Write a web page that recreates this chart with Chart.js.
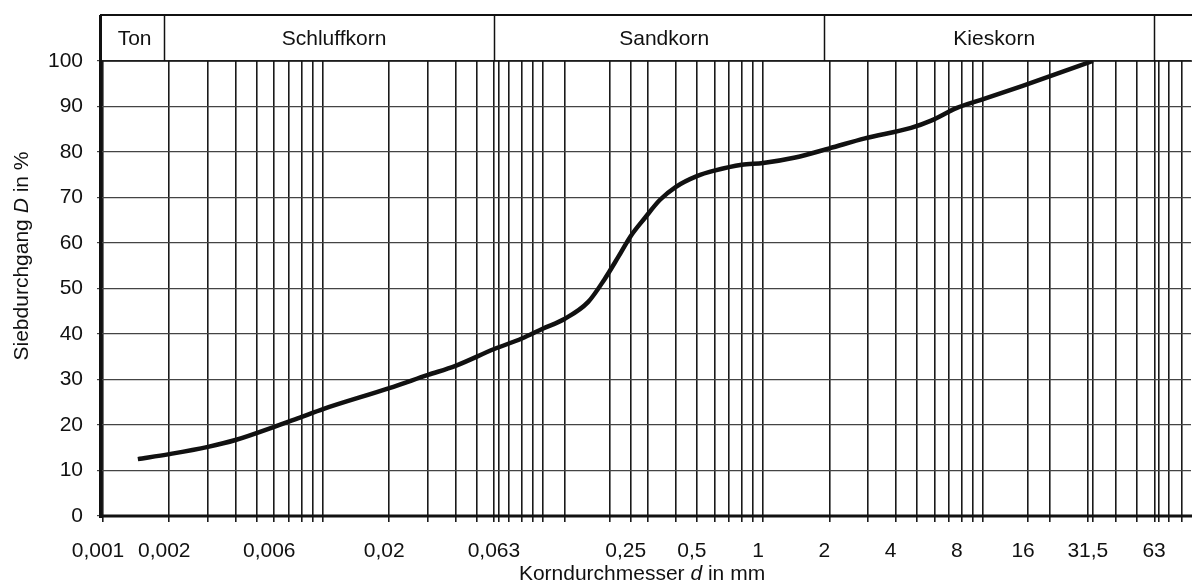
<!DOCTYPE html>
<html>
<head>
<meta charset="utf-8">
<script src="https://cdn.jsdelivr.net/npm/chart.js@4.4.1/dist/chart.umd.min.js"></script>
<style>
  html, body { margin: 0; padding: 0; background: #fff; }
  #wrap { width: 1192px; height: 585px; }
</style>
</head>
<body>
<div id="wrap"><canvas id="c" width="1192" height="585"></canvas></div>
<script>
// Sieblinie: grain diameter (mm) vs. passing percentage
const grainSize = [0.00144, 0.002, 0.003, 0.004, 0.006, 0.008, 0.01, 0.02, 0.03, 0.04, 0.06, 0.08,
  0.1, 0.125, 0.16, 0.19, 0.22, 0.25, 0.29, 0.34, 0.4, 0.5, 0.6, 0.8, 1.0, 1.4, 2.0, 2.9, 4.7,
  5.8, 7.6, 9.7, 15, 20, 31.5];
const passing = [12.5, 13.6, 15.2, 16.7, 19.6, 21.8, 23.5, 28.1, 31.0, 33.0, 36.7, 39.0,
  41.2, 43.3, 47.0, 52.0, 57.0, 61.5, 65.5, 69.5, 72.3, 74.7, 75.9, 77.2, 77.6, 78.8, 80.8, 83.0, 85.3,
  86.9, 89.7, 91.4, 94.5, 96.6, 100];

// labelled diameters on the x axis
const labelledSizes = [0.001, 0.002, 0.006, 0.02, 0.063, 0.25, 0.5, 1, 2, 4, 8, 16, 31.5, 63];
const labelTexts = ['0,001', '0,002', '0,006', '0,02', '0,063', '0,25', '0,5', '1', '2', '4', '8', '16', '31,5', '63'];

// extra sieve sizes drawn as grid lines besides the 1..9 decade lines
const extraSieves = [0.063, 0.125, 0.25, 16, 31.5, 63];

// soil class bands in the header
const bandLimits = [0.001, 0.002, 0.063, 2, 63, 88];
const bandNames = ['Ton', 'Schluffkorn', 'Sandkorn', 'Kieskorn', ''];

const yTicks = [0, 10, 20, 30, 40, 50, 60, 70, 80, 90, 100];

const FONT = '"Liberation Sans", Arial, sans-serif';
const FS = 21;

function gridValues() {
  const vals = [];
  for (let k = -3; k <= 1; k++) {
    for (let m = 1; m <= 9; m++) {
      const v = +(m * Math.pow(10, k)).toPrecision(6);
      if (v <= 88) vals.push(v);
    }
  }
  extraSieves.forEach(v => vals.push(v));
  return Array.from(new Set(vals)).sort((a, b) => a - b);
}

function labelFor(v) {
  for (let i = 0; i < labelledSizes.length; i++) {
    if (Math.abs(labelledSizes[i] - v) / labelledSizes[i] < 1e-6) return labelTexts[i];
  }
  return '';
}

function drawMixed(ctx, parts, x, y, size) {
  // parts: [text, italic]
  let total = 0;
  parts.forEach(p => { ctx.font = (p[1] ? 'italic ' : '') + size + 'px ' + FONT; total += ctx.measureText(p[0]).width; });
  let cx = x - total / 2;
  ctx.textAlign = 'left';
  parts.forEach(p => {
    ctx.font = (p[1] ? 'italic ' : '') + size + 'px ' + FONT;
    ctx.fillText(p[0], cx, y);
    cx += ctx.measureText(p[0]).width;
  });
}

const framePlugin = {
  id: 'frame',
  afterDraw(chart) {
    const ctx = chart.ctx;
    const xs = chart.scales.x, ys = chart.scales.y;
    const area = chart.chartArea;
    const headTop = 15;
    ctx.save();
    ctx.strokeStyle = '#111';
    ctx.fillStyle = '#111';

    // header frame
    ctx.lineWidth = 2;
    ctx.beginPath();
    ctx.moveTo(100, headTop); ctx.lineTo(1192, headTop);
    ctx.stroke();
    ctx.lineWidth = 1.5;
    ctx.beginPath();
    ctx.moveTo(100, area.top); ctx.lineTo(1192, area.top);
    ctx.stroke();
    for (let i = 1; i < bandLimits.length - 1; i++) {
      const px = Math.round(xs.getPixelForValue(bandLimits[i])) - 4.5;
      ctx.beginPath();
      ctx.moveTo(px, headTop); ctx.lineTo(px, area.top);
      ctx.stroke();
    }
    ctx.font = FS + 'px ' + FONT;
    ctx.textAlign = 'center';
    ctx.textBaseline = 'middle';
    for (let i = 0; i < bandNames.length; i++) {
      const a = i === 0 ? 100 : xs.getPixelForValue(bandLimits[i]);
      const b = Math.min(xs.getPixelForValue(bandLimits[i + 1]), 1192);
      if (bandNames[i]) ctx.fillText(bandNames[i], (a + b) / 2, (headTop + area.top) / 2 + 1);
    }

    // left border and zero line
    ctx.lineWidth = 3;
    ctx.beginPath();
    ctx.moveTo(100.5, headTop); ctx.lineTo(100.5, area.bottom + 2);
    ctx.stroke();
    ctx.beginPath();
    ctx.moveTo(100, ys.getPixelForValue(0)); ctx.lineTo(1192, ys.getPixelForValue(0));
    ctx.stroke();

    // axis titles
    ctx.textBaseline = 'middle';
    drawMixed(ctx, [['Korndurchmesser ', false], ['d', true], [' in mm', false]], 642, 574, FS);
    ctx.save();
    ctx.translate(22, 256);
    ctx.rotate(-Math.PI / 2);
    drawMixed(ctx, [['Siebdurchgang ', false], ['D', true], [' in %', false]], 0, 0, FS);
    ctx.restore();

    ctx.restore();
  }
};

const grid = gridValues();

new Chart(document.getElementById('c'), {
  type: 'line',
  data: {
    datasets: [{
      data: grainSize.map((x, i) => ({ x: x, y: passing[i] })),
      borderColor: '#111',
      borderWidth: 4.5,
      pointRadius: 0,
      cubicInterpolationMode: 'monotone',
      fill: false
    }]
  },
  options: {
    responsive: false,
    animation: false,
    devicePixelRatio: 1,
    layout: { padding: { top: 61, right: 1, bottom: 0, left: 0 } },
    plugins: { legend: { display: false }, tooltip: { enabled: false } },
    scales: {
      x: {
        type: 'logarithmic',
        min: 0.001,
        max: 88,
        afterBuildTicks: (scale) => { scale.ticks = grid.map(v => ({ value: v })); },
        afterFit: (scale) => {
          scale.height = 69;
          scale.paddingLeft = 0;
          scale.paddingRight = 0;
        },
        ticks: {
          autoSkip: false,
          maxRotation: 0,
          minRotation: 0,
          padding: 17,
          labelOffset: -5,
          color: '#111',
          font: { family: FONT, size: FS },
          callback: (v) => labelFor(v)
        },
        grid: { color: '#1a1a1a', lineWidth: 1.6, tickLength: 6 },
        border: { display: false }
      },
      y: {
        min: 0,
        max: 100,
        afterBuildTicks: (scale) => { scale.ticks = yTicks.map(v => ({ value: v })); },
        afterFit: (scale) => {
          scale.width = 103;
          scale.paddingTop = 0;
          scale.paddingBottom = 0;
        },
        ticks: {
          padding: 14,
          color: '#111',
          font: { family: FONT, size: FS },
          callback: (v) => String(v)
        },
        grid: { color: '#444', lineWidth: 1.2, tickLength: 6 },
        border: { display: false }
      }
    }
  },
  plugins: [framePlugin]
});
</script>
</body>
</html>
